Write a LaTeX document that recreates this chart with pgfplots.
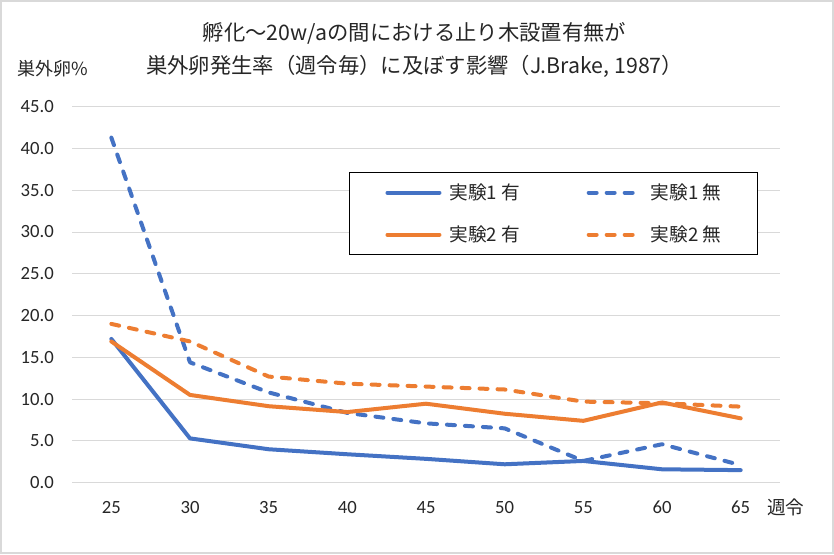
\documentclass[border=0pt]{standalone}
\usepackage{fontspec}
\setmainfont{Carlito}
\newfontfamily\jp{Noto Sans CJK JP}
\usepackage{pgfplots}
\pgfplotsset{compat=1.18}
\definecolor{cblue}{HTML}{4472C4}
\definecolor{corange}{HTML}{ED7D31}
\definecolor{cgrid}{HTML}{D9D9D9}
\definecolor{ctext}{HTML}{262626}
\begin{document}
\begin{tikzpicture}
\useasboundingbox (0,0) rectangle (625.5pt,415.5pt);
\fill[white] (0,0) rectangle (625.5pt,415.5pt);
\draw[cgrid, line width=1.5pt] (0.75pt,0.75pt) rectangle (624.75pt,414.75pt);
\begin{axis}[
  at={(54pt,53.5pt)}, anchor=south west,
  scale only axis, width=531pt, height=282pt,
  xmin=22.5, xmax=67.5, ymin=0, ymax=45,
  xtick={25,30,...,65}, ytick={0,5,...,45},
  axis line style={draw=none},
  major tick length=0pt,
  ymajorgrids, grid style={color=cgrid, line width=0.75pt},
  /pgf/number format/assume math mode=true,
  yticklabel style={/pgf/number format/fixed, /pgf/number format/fixed zerofill, /pgf/number format/precision=1},
  ticklabel style={font=\fontsize{14}{16}\selectfont, text=ctext},
  yticklabel style={anchor=east, inner sep=0pt, xshift=-13.5pt},
  xticklabel style={anchor=center, inner sep=0pt, yshift=-18.6pt},
  legend columns=2,
  legend cell align=left,
  legend style={at={(0.3912,0.8262)}, anchor=north west, draw=black, line width=0.75pt,
    inner xsep=27pt, inner ysep=8.5pt, row sep=18.25pt,
    font=\jp\fontsize{14}{16}\selectfont, text=ctext,
    nodes={inner sep=0pt},
    /tikz/every odd column/.append style={column sep=6pt},
    /tikz/every even column/.append style={column sep=50pt}},
  legend image code/.code={\draw[#1] (0pt,0pt) -- (39pt,0pt);},
  every axis plot/.append style={line width=3pt, line cap=round, line join=round},
]
\addplot[cblue] coordinates {(25,17.2) (30,5.3) (35,4.0) (40,3.4) (45,2.85) (50,2.2) (55,2.6) (60,1.6) (65,1.5)};
\addlegendentry{実験1 有}
\addplot[cblue, dash pattern=on 6pt off 7.5pt] coordinates {(25,41.3) (30,14.4) (35,10.8) (40,8.35) (45,7.1) (50,6.5) (55,2.6) (60,4.6) (65,2.1)};
\addlegendentry{実験1 無}
\addplot[corange] coordinates {(25,16.9) (30,10.5) (35,9.15) (40,8.45) (45,9.45) (50,8.25) (55,7.4) (60,9.6) (65,7.7)};
\addlegendentry{実験2 有}
\addplot[corange, dash pattern=on 6pt off 7.5pt] coordinates {(25,19.0) (30,16.9) (35,12.7) (40,11.85) (45,11.5) (50,11.15) (55,9.7) (60,9.5) (65,9.1)};
\addlegendentry{実験2 無}
\end{axis}
\node[font=\jp\fontsize{16}{18}\selectfont, text=ctext, anchor=center] at (310.9pt,390.75pt) {孵化～20w/aの間における止り木設置有無が};
\node[font=\jp\fontsize{16}{18}\selectfont, text=ctext, anchor=center] at (310.9pt,366pt) {巣外卵発生率（週令毎）に及ぼす影響（J.Brake, 1987）};
\node[font=\jp\fontsize{13.5}{16}\selectfont, text=ctext, anchor=west, inner sep=0pt] at (12.75pt,363.75pt) {巣外卵\%};
\node[font=\jp\fontsize{14}{16}\selectfont, text=ctext, anchor=west, inner sep=0pt] at (575.25pt,34.9pt) {週令};
\end{tikzpicture}
\end{document}
